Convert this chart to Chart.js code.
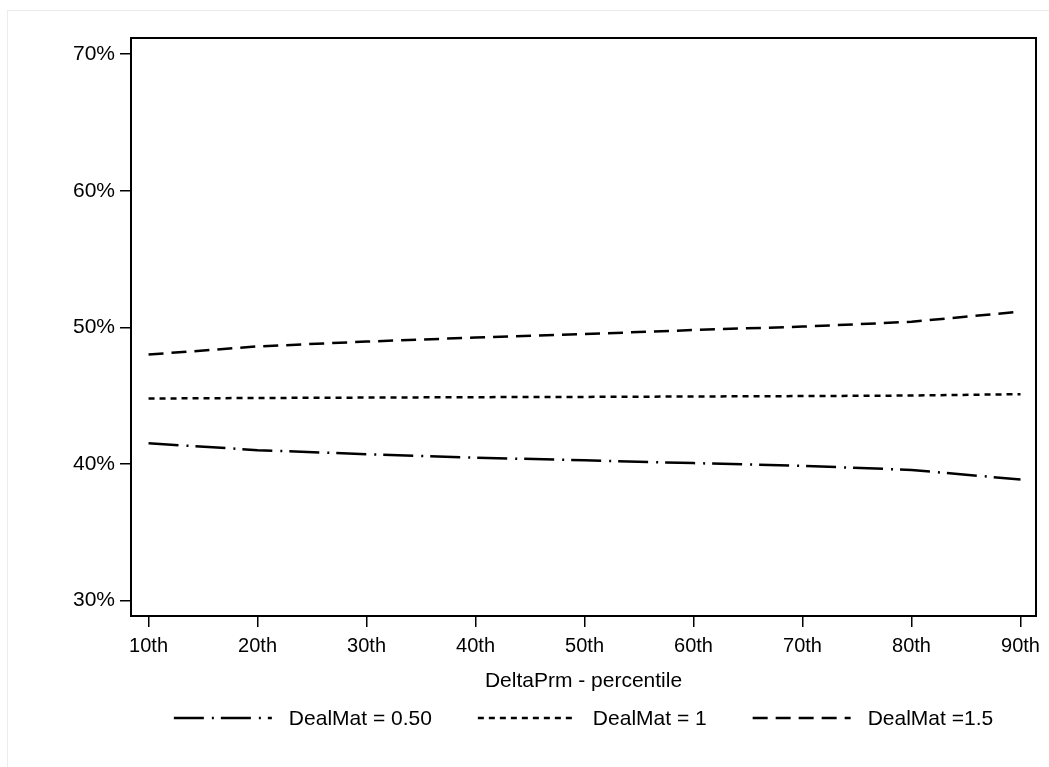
<!DOCTYPE html>
<html>
<head>
<meta charset="utf-8">
<script src="https://cdn.jsdelivr.net/npm/chart.js@4/dist/chart.umd.min.js"></script>
<style>
  html, body { margin: 0; padding: 0; background: #fff; }
  #wrap { position: relative; width: 1049px; height: 767px; overflow: hidden; }
  #outline { position: absolute; left: 7px; top: 10px; width: 1060px; height: 780px; border: 1px solid #ececec; box-sizing: border-box; }
  canvas { position: absolute; left: 0; top: 0; }
</style>
</head>
<body>
<div id="wrap">
  <div id="outline"></div>
  <canvas id="c" width="1049" height="767"></canvas>
</div>
<script>
// DeltaPrm percentiles on the x axis
const percentiles = [10, 20, 30, 40, 50, 60, 70, 80, 90];
const percentileLabels = ['10th', '20th', '30th', '40th', '50th', '60th', '70th', '80th', '90th'];

// Values in percent, one series per DealMat
const dealMat050 = [41.5, 41.0, 40.7, 40.45, 40.25, 40.05, 39.85, 39.55, 38.85];
const dealMat1   = [44.78, 44.82, 44.85, 44.88, 44.9, 44.93, 44.96, 45.0, 45.1];
const dealMat15  = [48.0, 48.6, 48.95, 49.25, 49.5, 49.8, 50.05, 50.4, 51.15];

const yTickValues = [30, 40, 50, 60, 70];

const seriesLabels = ['DealMat = 0.50', 'DealMat = 1', 'DealMat =1.5'];

const FONT = "'Liberation Sans', Arial, Helvetica, sans-serif";

function toPoints(values) {
  return percentiles.map((p, i) => ({ x: p, y: values[i] }));
}

// Full box around the plotting area
const framePlugin = {
  id: 'frame',
  afterDatasetsDraw(chart) {
    const { ctx, chartArea: a } = chart;
    ctx.save();
    ctx.strokeStyle = '#000';
    ctx.lineWidth = 2;
    ctx.setLineDash([]);
    ctx.strokeRect(a.left, a.top, a.right - a.left, a.bottom - a.top);
    ctx.restore();
  }
};

// Single-row legend below the axis title, each key drawn with its series' dash pattern
const keyRowPlugin = {
  id: 'keyRow',
  afterDraw(chart) {
    const { ctx, chartArea: a } = chart;
    const lineLen = 98, textGap = 17, itemGap = 46, rowY = 718;
    ctx.save();
    ctx.font = '21px ' + FONT;
    const items = chart.data.datasets.map(ds => ({ ds, w: ctx.measureText(ds.label).width }));
    const total = items.reduce((s, it) => s + lineLen + textGap + it.w, 0) + itemGap * (items.length - 1);
    let x = (a.left + a.right) / 2 - total / 2;
    items.forEach(({ ds, w }) => {
      ctx.beginPath();
      ctx.setLineDash(ds.borderDash || []);
      ctx.lineDashOffset = 0;
      ctx.lineWidth = ds.borderWidth;
      ctx.strokeStyle = ds.borderColor;
      ctx.moveTo(x, rowY);
      ctx.lineTo(x + lineLen, rowY);
      ctx.stroke();
      ctx.setLineDash([]);
      ctx.fillStyle = '#000';
      ctx.textAlign = 'left';
      ctx.textBaseline = 'middle';
      ctx.fillText(ds.label, x + lineLen + textGap, rowY + 1);
      x += lineLen + textGap + w + itemGap;
    });
    ctx.restore();
  }
};

const common = { borderColor: '#000', borderWidth: 2.5, pointRadius: 0, pointHoverRadius: 0, tension: 0, fill: false };

new Chart(document.getElementById('c'), {
  type: 'line',
  data: {
    datasets: [
      Object.assign({ label: seriesLabels[0], data: toPoints(dealMat050), borderDash: [30, 8, 2, 7] }, common),
      Object.assign({ label: seriesLabels[1], data: toPoints(dealMat1), borderDash: [6, 5] }, common),
      Object.assign({ label: seriesLabels[2], data: toPoints(dealMat15), borderDash: [15, 8] }, common)
    ]
  },
  options: {
    responsive: false,
    animation: false,
    devicePixelRatio: 1,
    layout: { padding: { top: 38, right: 13, bottom: 0, left: 0 } },
    plugins: {
      legend: { display: false },
      tooltip: { enabled: false }
    },
    scales: {
      x: {
        type: 'linear',
        min: 8.39,
        max: 91.42,
        afterBuildTicks(scale) { scale.ticks = percentiles.map(v => ({ value: v })); },
        afterFit(scale) { scale.height = 151; },
        ticks: {
          color: '#000',
          font: { family: FONT, size: 20 },
          padding: 7,
          maxRotation: 0,
          autoSkip: false,
          callback(value) {
            const i = percentiles.indexOf(value);
            return i >= 0 ? percentileLabels[i] : '';
          }
        },
        grid: { display: true, drawOnChartArea: false, drawTicks: true, tickLength: 11, color: '#000', lineWidth: 1.5 },
        border: { display: false },
        title: {
          display: true,
          text: 'DeltaPrm - percentile',
          color: '#000',
          font: { family: FONT, size: 21 },
          padding: { top: 0, bottom: 73 }
        }
      },
      y: {
        type: 'linear',
        min: 28.85,
        max: 71.19,
        afterBuildTicks(scale) { scale.ticks = yTickValues.map(v => ({ value: v })); },
        afterFit(scale) { scale.width = 131; },
        ticks: {
          color: '#000',
          font: { family: FONT, size: 21 },
          padding: 5,
          callback(value) { return value + '%'; }
        },
        grid: { display: true, drawOnChartArea: false, drawTicks: true, tickLength: 11, color: '#000', lineWidth: 1.5 },
        border: { display: false }
      }
    }
  },
  plugins: [framePlugin, keyRowPlugin]
});
</script>
</body>
</html>
